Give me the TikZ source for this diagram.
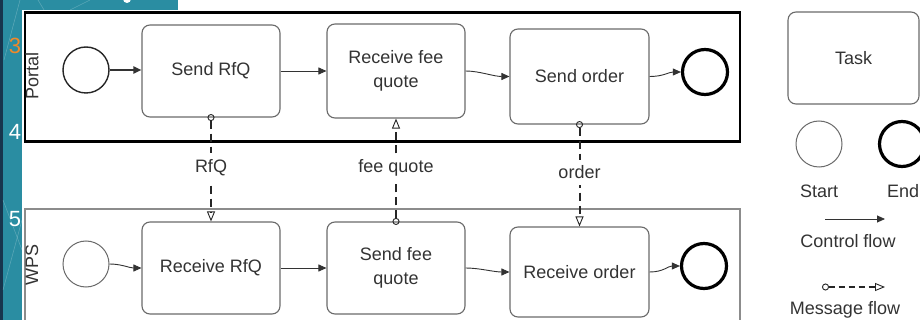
\documentclass[tikz,border=0pt]{standalone}
\usepackage{fontspec}
\setmainfont{Liberation Sans}
\usetikzlibrary{arrows.meta,calc}

\definecolor{slideteal}{HTML}{2A8DA2}
\definecolor{slidenavy}{HTML}{17354D}
\definecolor{boxgray}{HTML}{6A6A6A}
\definecolor{textgray}{HTML}{333333}
\definecolor{numorange}{HTML}{F0892A}

\begin{document}
\begin{tikzpicture}[x=1pt,y=-1pt,
  every node/.style={font=\fontsize{18}{24}\selectfont, text=textgray},
  task/.style={draw=boxgray, line width=1.1pt, rounded corners=8pt, fill=white,
    align=center, inner sep=0pt, minimum width=138pt, minimum height=92pt},
  startev/.style={circle, draw=boxgray, line width=1pt, minimum size=46pt, inner sep=0pt},
  endev/.style={circle, draw=black, line width=3.2pt, minimum size=45pt, inner sep=0pt},
  ctrl/.style={draw=black!80, line width=0.9pt, -{Triangle[length=8pt,width=7pt]}},
  msg/.style={draw=black!85, line width=2pt, dash pattern=on 8pt off 5pt,
    {Circle[open,length=7pt,width=7pt,line width=0.9pt]}-{Triangle[open,length=10pt,width=8pt,line width=0.9pt]}},
  msglabel/.style={fill=white, inner xsep=3pt, inner ysep=6pt},
  lanelabel/.style={rotate=90},
  slidenum/.style={font=\fontsize{22}{22}\selectfont, text=white}
]
\useasboundingbox (0,0) rectangle (920,320);
\fill[white] (0,0) rectangle (920,320);

% slide frame on the left and top
\fill[slideteal] (0,0) rectangle (22,320);
\fill[slideteal] (0,0) rectangle (178,10);
\fill[slidenavy] (0,0) rectangle (3,320);
\begin{scope}[draw=white, opacity=0.22, line width=0.6pt]
  \draw (20,0) -- (4,60);
  \draw (38,0) -- (44,10);
  \draw (3,200) -- (22,250);
  \draw (22,220) -- (3,290);
  \draw (70,10) -- (90,0);
\end{scope}
\fill[white] (127,-1) circle (4);
\node[slidenum, text=numorange] (n3) at (15,46) {3};
\node[slidenum] (n4) at (15,132) {4};
\node[slidenum] (n5) at (15,219) {5};

% pools
\draw[black, line width=2.4pt] (25,12.5) rectangle (740,141.5);
\draw[black!45, line width=1.2pt] (25,209) rectangle (740,335);
\node[lanelabel] (lportal) at (32,76) {Portal};
\node[lanelabel] (lwps) at (32,265) {WPS};

% Portal process
\node[startev, draw=black!85, line width=1.4pt] (ps) at (86,70) {};
\node[task] (sendrfq) at (211,71) {Send RfQ};
\node[task, minimum height=94pt] (rfee) at (396,71) {Receive fee\\quote};
\node[task, minimum width=139pt, minimum height=95pt] (sorder) at (579.5,76.5) {Send order};
\node[endev] (pe) at (705,72) {};

\draw[ctrl, line width=1.8pt] (ps.east) -- (ps.east -| sendrfq.west);
\draw[ctrl] (sendrfq.east) -- (sendrfq.east -| rfee.west);
\draw[ctrl] (rfee.east) .. controls +(14,0) and +(-16,0) .. (sorder.west);
\draw[ctrl] (sorder.east) .. controls +(14,0) and +(-12,0) .. (pe.west);

% WPS process
\node[startev] (ws) at (86,264) {};
\node[task] (rrfq) at (211,268) {Receive RfQ};
\node[task] (sfee) at (396,268) {Send fee\\quote};
\node[task, minimum width=139pt, minimum height=90pt] (rorder) at (579.5,272) {Receive order};
\node[endev] (we) at (704,266) {};

\draw[ctrl] (ws.east) .. controls +(12,0) and +(-12,0) .. (rrfq.west);
\draw[ctrl] (rrfq.east) -- (rrfq.east -| sfee.west);
\draw[ctrl] (sfee.east) .. controls +(14,0) and +(-16,0) .. (rorder.west);
\draw[ctrl] (rorder.east) .. controls +(14,0) and +(-12,0) .. (we.west);

% message flows between the pools
\draw[msg, shorten <=-3.5pt] (sendrfq.south) -- (rrfq.north);
\draw[msg, shorten <=-3.5pt] (sfee.north) -- (rfee.south);
\draw[msg, shorten <=-3.5pt] (sorder.south) -- (rorder.north);
\node[msglabel] (mrfq) at ($(sendrfq.south)!0.48!(rrfq.north)$) {RfQ};
\node[msglabel] (mfee) at ($(sfee.north)!0.52!(rfee.south)$) {fee quote};
\node[msglabel] (mord) at ($(sorder.south)!0.47!(rorder.north)$) {order};

% legend
\node[task, minimum width=131pt, minimum height=92pt] (ltask) at (853.5,58) {Task};
\node[startev] (lstart) at (819,144) {};
\node[endev] (lend) at (902,144) {};
\node (tstart) at (819,191) {Start};
\node (tend) at (903,191) {End};
\coordinate (cf1) at (825,219);
\coordinate (cf2) at (885,219);
\draw[ctrl] (cf1) -- (cf2);
\node (tcf) at (848,241) {Control flow};
\coordinate (mf1) at (822,287);
\coordinate (mf2) at (885,287);
\draw[msg, line width=1.5pt, dash pattern=on 6pt off 4pt] (mf1) -- (mf2);
\node (tmf) at (845,310) {Message flow};
\end{tikzpicture}
\end{document}
